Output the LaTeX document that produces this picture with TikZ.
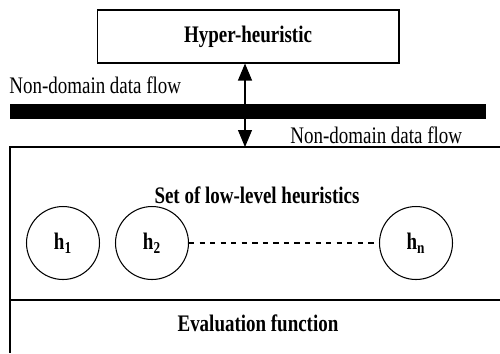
\documentclass[tikz,border=0pt]{standalone}
\usepackage{fontspec}
\setmainfont{Liberation Serif}[FakeStretch=0.8]
\usetikzlibrary{arrows.meta, positioning, calc}
\newcommand{\diafont}{\fontsize{13.5}{15}\selectfont}
\tikzset{
  thinline/.style={line width=0.6pt},
  boldtext/.style={font=\diafont\bfseries},
  hbox/.style={draw, thinline, minimum width=6.04cm, minimum height=1.06cm,
               boldtext},
  hcirc/.style={draw, thinline, circle, minimum size=1.46cm, inner sep=0pt,
                boldtext},
}
\newcommand{\hsub}[1]{h\textsubscript{#1}}

\begin{document}
\begin{tikzpicture}[x=0.02cm, y=-0.02cm, font=\diafont]
  \useasboundingbox (0,0) rectangle (500,353);
  \node[hbox] (hyper) at (248,36.5) {Hyper-heuristic};
  \fill (10,104) rectangle (486,119);
  \node[anchor=west, inner sep=0pt] (flowa) at (9,85) {Non-domain data flow};
  \node[anchor=west, inner sep=0pt] (flowb) at (290,135) {Non-domain data flow};
  % lower box, runs off the page to the right and bottom
  \coordinate (lowtop) at (245,147);
  \draw[thinline] (500,147) -- (10,147) -- (10,353);
  \draw[thinline] (10,300) -- (500,300);
  \draw[thinline, {Triangle[length=3.4mm, width=2.8mm]}-{Triangle[length=3.4mm, width=2.8mm]}]
    (lowtop |- hyper.south) -- (lowtop);
  \node[boldtext] (lowset) at (257,195) {Set of low-level heuristics};
  \node[hcirc] (h1) at (63,243) {\hsub{1}};
  \node[hcirc] (h2) at (152,243) {\hsub{2}};
  \node[hcirc] (hn) at (416,243) {\hsub{n}};
  \draw[thinline, dashed] (h2) -- (hn);
  \node[boldtext] (evalf) at (258,323) {Evaluation function};
\end{tikzpicture}
\end{document}
